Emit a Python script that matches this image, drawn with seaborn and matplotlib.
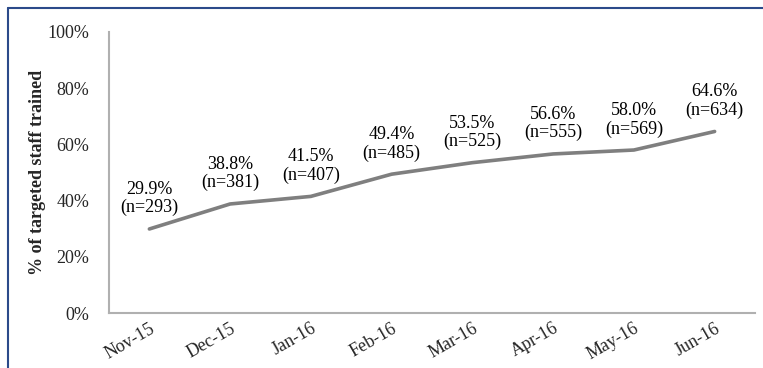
import matplotlib
matplotlib.use("Agg")
import matplotlib.pyplot as plt
import seaborn as sns
import numpy as np
import pandas as pd
from matplotlib.lines import Line2D

#%% DATA
months = ["Nov-15", "Dec-15", "Jan-16", "Feb-16", "Mar-16", "Apr-16", "May-16", "Jun-16"]
pct_trained = [29.9, 38.8, 41.5, 49.4, 53.5, 56.6, 58.0, 64.6]
n_trained = [293, 381, 407, 485, 525, 555, 569, 634]
y_ticks = [0, 20, 40, 60, 80, 100]

df = pd.DataFrame({"month": months, "pct": pct_trained, "n": n_trained})

#%% PLOT
sns.set_theme(style="white")
plt.rcParams["font.family"] = ["Liberation Serif", "DejaVu Serif"]

fig = plt.figure(figsize=(7.63, 3.68), dpi=100)
ax = fig.add_axes([109 / 763, 1 - 313 / 368, 646 / 763, 281 / 368])

sns.lineplot(data=df, x="month", y="pct", ax=ax, color="#7f7f7f", linewidth=2.6, sort=False)

# labels above each point
for i, row in df.iterrows():
    ax.annotate(f"{row['pct']:.1f}%\n(n={row['n']})", (i, row["pct"]),
                xytext=(0, 9), textcoords="offset points",
                ha="center", va="bottom", fontsize=13, linespacing=1.1, color="black")

ax.set_xlim(-0.5, len(months) - 0.5)
ax.set_ylim(0, 100)
ax.set_yticks(y_ticks)
ax.set_yticklabels([f"{v}%" for v in y_ticks], fontsize=13)
ax.set_xticks(range(len(months)))
ax.set_xticklabels(months, rotation=30, ha="right", rotation_mode="anchor", fontsize=13)
ax.set_xticks(np.arange(-0.5, len(months), 1), minor=True)
ax.tick_params(axis="x", which="major", length=0, pad=5)
ax.tick_params(axis="x", which="minor", length=8, direction="inout", color="#b0b0b0", width=1.2)
ax.tick_params(axis="y", length=0, pad=14)

ax.set_xlabel("")
ax.set_ylabel("% of targeted staff trained", fontsize=13, fontweight="bold", labelpad=1)

for side in ["top", "right"]:
    ax.spines[side].set_visible(False)
for side in ["left", "bottom"]:
    ax.spines[side].set_color("#b0b0b0")
    ax.spines[side].set_linewidth(1.5)

# outer frame (top and left edge only visible)
fig.add_artist(Line2D([8 / 763, 1], [1 - 8 / 368, 1 - 8 / 368], transform=fig.transFigure,
                      color="#2b4a8a", linewidth=1.5))
fig.add_artist(Line2D([8 / 763, 8 / 763], [0, 1 - 8 / 368], transform=fig.transFigure,
                      color="#2b4a8a", linewidth=1.5))

fig.savefig("out.png", dpi=100)
